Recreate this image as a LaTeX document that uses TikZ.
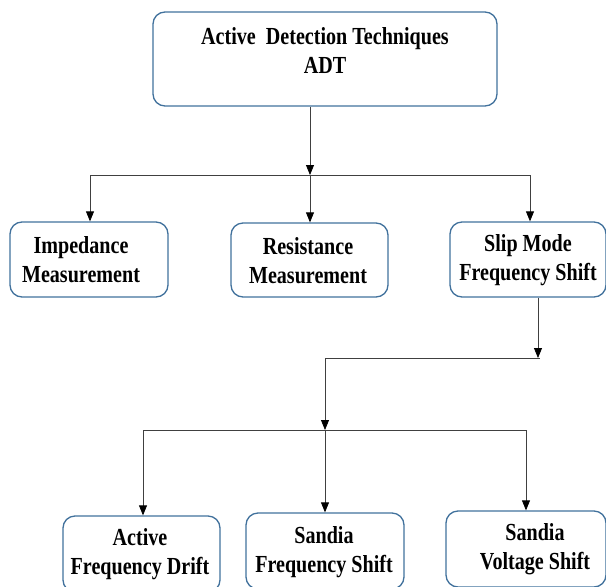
\documentclass[tikz,border=0pt]{standalone}
\usepackage{fontspec}
\setmainfont{Liberation Serif}[FakeStretch=0.82]
\usetikzlibrary{arrows.meta}
\definecolor{boxblue}{RGB}{65,113,156}
\begin{document}
\begin{tikzpicture}[x=1pt,y=-1pt,
  box/.style={draw=boxblue, line width=1.3pt, rounded corners=12pt, inner sep=0pt},
  lbl/.style={font=\bfseries\fontsize{24.5}{29}\selectfont, align=center, inner sep=0pt},
  conn/.style={draw=black!75, line width=0.8pt},
  arr/.style={conn, -{Triangle[length=10pt,width=8pt,black]}}]
\useasboundingbox (0,0) rectangle (606,587);
\clip (0,0) rectangle (606,587);
% boxes
\node[box, minimum width=344pt, minimum height=94pt] (top) at (325,59) {};
\node[box, minimum width=158pt, minimum height=75pt] (imp) at (89,259.5) {};
\node[box, minimum width=157pt, minimum height=74pt] (res) at (309.5,260) {};
\node[box, minimum width=156pt, minimum height=75pt] (slip) at (528,259.5) {};
\node[box, minimum width=157pt, minimum height=76pt] (afd) at (141.5,554) {};
\node[box, minimum width=158pt, minimum height=76pt] (sfs) at (325,551) {};
\node[box, minimum width=160pt, minimum height=76pt] (svs) at (526,549) {};
% texts
\node[lbl] (ttop) at (325,51) {Active~ Detection Techniques\\ADT};
\node[lbl] (timp) at (81,260) {Impedance\\Measurement};
\node[lbl] (tres) at (308,261) {Resistance\\Measurement};
\node[lbl] (tslip) at (528,260) {Slip Mode\\Frequency Shift};
\node[lbl] (tafd) at (140,554) {Active\\Frequency Drift};
\node[lbl] (tsfs) at (324,552) {Sandia\\Frequency Shift};
\node[lbl] (tsvs) at (535,549) {Sandia\\Voltage Shift};
% junction coordinates
\coordinate (j1) at (310,175);
\coordinate (j1l) at (90,175);
\coordinate (j1r) at (530,175);
\coordinate (j2) at (538,358);
\coordinate (j2l) at (325,358);
\coordinate (j3) at (325,430);
\coordinate (j3l) at (143,430);
\coordinate (j3r) at (526,430);
% connectors
\draw[arr] (top.south -| j1) -- (j1);
\draw[conn] (j1l) -- (j1r);
\draw[arr] (j1l) -- (imp.north -| j1l);
\draw[arr] (j1) -- (res.north -| j1);
\draw[arr] (j1r) -- (slip.north -| j1r);
\draw[arr] (slip.south -| j2) -- (j2);
\draw[conn] (j2l) -- ([xshift=2pt]j2);
\draw[arr] (j2l) -- (j3);
\draw[conn] (j3l) -- (j3r);
\draw[arr] (j3l) -- (afd.north -| j3l);
\draw[arr] (j3) -- (sfs.north -| j3);
\draw[arr] (j3r) -- (svs.north -| j3r);
\end{tikzpicture}
\end{document}
